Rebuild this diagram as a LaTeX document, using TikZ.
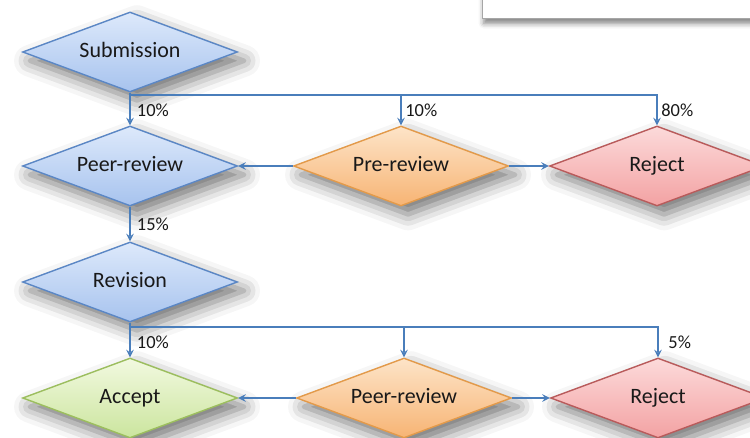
\documentclass[tikz,border=0pt]{standalone}
\usepackage{fontspec}
\setmainfont{Carlito}
\usetikzlibrary{shapes.geometric, shadows.blur}

\definecolor{lineblue}{HTML}{4A7EBB}
\definecolor{blueedge}{HTML}{5B87C5}
\definecolor{bluetop}{HTML}{DDE9FB}
\definecolor{bluebot}{HTML}{A7C3EE}
\definecolor{orangeedge}{HTML}{E39A4A}
\definecolor{orangetop}{HTML}{FDE4C8}
\definecolor{orangebot}{HTML}{F7B474}
\definecolor{rededge}{HTML}{B95B5B}
\definecolor{redtop}{HTML}{FCDADA}
\definecolor{redbot}{HTML}{F3A2A3}
\definecolor{greenedge}{HTML}{9CBE5E}
\definecolor{greentop}{HTML}{F2F9E0}
\definecolor{greenbot}{HTML}{CBE59E}

\begin{document}
\begin{tikzpicture}[>=stealth, thin, x=0.02cm, y=-0.02cm,
    stage/.style={diamond, aspect=2.7, minimum width=4.3cm, minimum height=1.6cm,
        inner sep=1pt, line width=0.8pt, text=black!90,
        text height=1.6ex, text depth=0.4ex,
        font=\fontsize{12.5}{15}\selectfont,
        blur shadow={shadow xshift=4pt, shadow yshift=-5pt, shadow blur radius=9pt, shadow opacity=55}},
    bluestage/.style={stage, draw=blueedge, top color=bluetop, bottom color=bluebot},
    orangestage/.style={stage, draw=orangeedge, top color=orangetop, bottom color=orangebot},
    redstage/.style={stage, draw=rededge, top color=redtop, bottom color=redbot},
    greenstage/.style={stage, draw=greenedge, top color=greentop, bottom color=greenbot},
    note/.style={draw=gray!70, fill=white, minimum width=7cm, minimum height=1.2cm,
        blur shadow={shadow xshift=1pt, shadow yshift=-3pt, shadow blur radius=3pt, shadow opacity=50}},
    flow/.style={->, draw=lineblue, line width=0.9pt},
    pct/.style={right, inner sep=3.5pt, text=black!90, font=\fontsize{10.5}{12}\selectfont}]

    \useasboundingbox (0,0) rectangle (750,438);
    \clip (0,0) rectangle (750,438);

    \node[note] (note) at (657,-12) {};

    % first round
    \node[bluestage] (sub) at (130,52) {Submission};
    \node[bluestage] (peer) at (130,166) {Peer-review};
    \node[orangestage] (pre) at (401,166) {Pre-review};
    \node[redstage] (rej) at (657,166) {Reject};

    % second round
    \node[bluestage] (rev) at (130,282) {Revision};
    \node[greenstage] (acc) at (130,398) {Accept};
    \node[orangestage] (peer2) at (404,398) {Peer-review};
    \node[redstage] (rej2) at (658,398) {Reject};

    \coordinate (fork) at (130,95);
    \coordinate (fork2) at (130,327);

    \draw[flow, -] (sub.south) -- (fork);
    \draw[flow] (fork) -- (peer.north) node[pct, midway] {10\%};
    \draw[flow] (fork) -| (pre.north) node[pct, pos=0.75, inner sep=2pt] {10\%};
    \draw[flow] (fork) -| (rej.north) node[pct, pos=0.75, inner sep=2pt] {80\%};
    \draw[flow] (pre.west) -- (peer.east);
    \draw[flow] (pre.east) -- (rej.west);

    \draw[flow] (peer.south) -- (rev.north) node[pct, midway] {15\%};

    \draw[flow, -] (rev.south) -- (fork2);
    \draw[flow] (fork2) -- (acc.north) node[pct, midway] {10\%};
    \draw[flow] (fork2) -| (peer2.north);
    \draw[flow] (fork2) -| (rej2.north) node[pct, pos=0.75, xshift=2pt] {5\%};
    \draw[flow] (peer2.west) -- (acc.east);
    \draw[flow] (peer2.east) -- (rej2.west);
\end{tikzpicture}
\end{document}
